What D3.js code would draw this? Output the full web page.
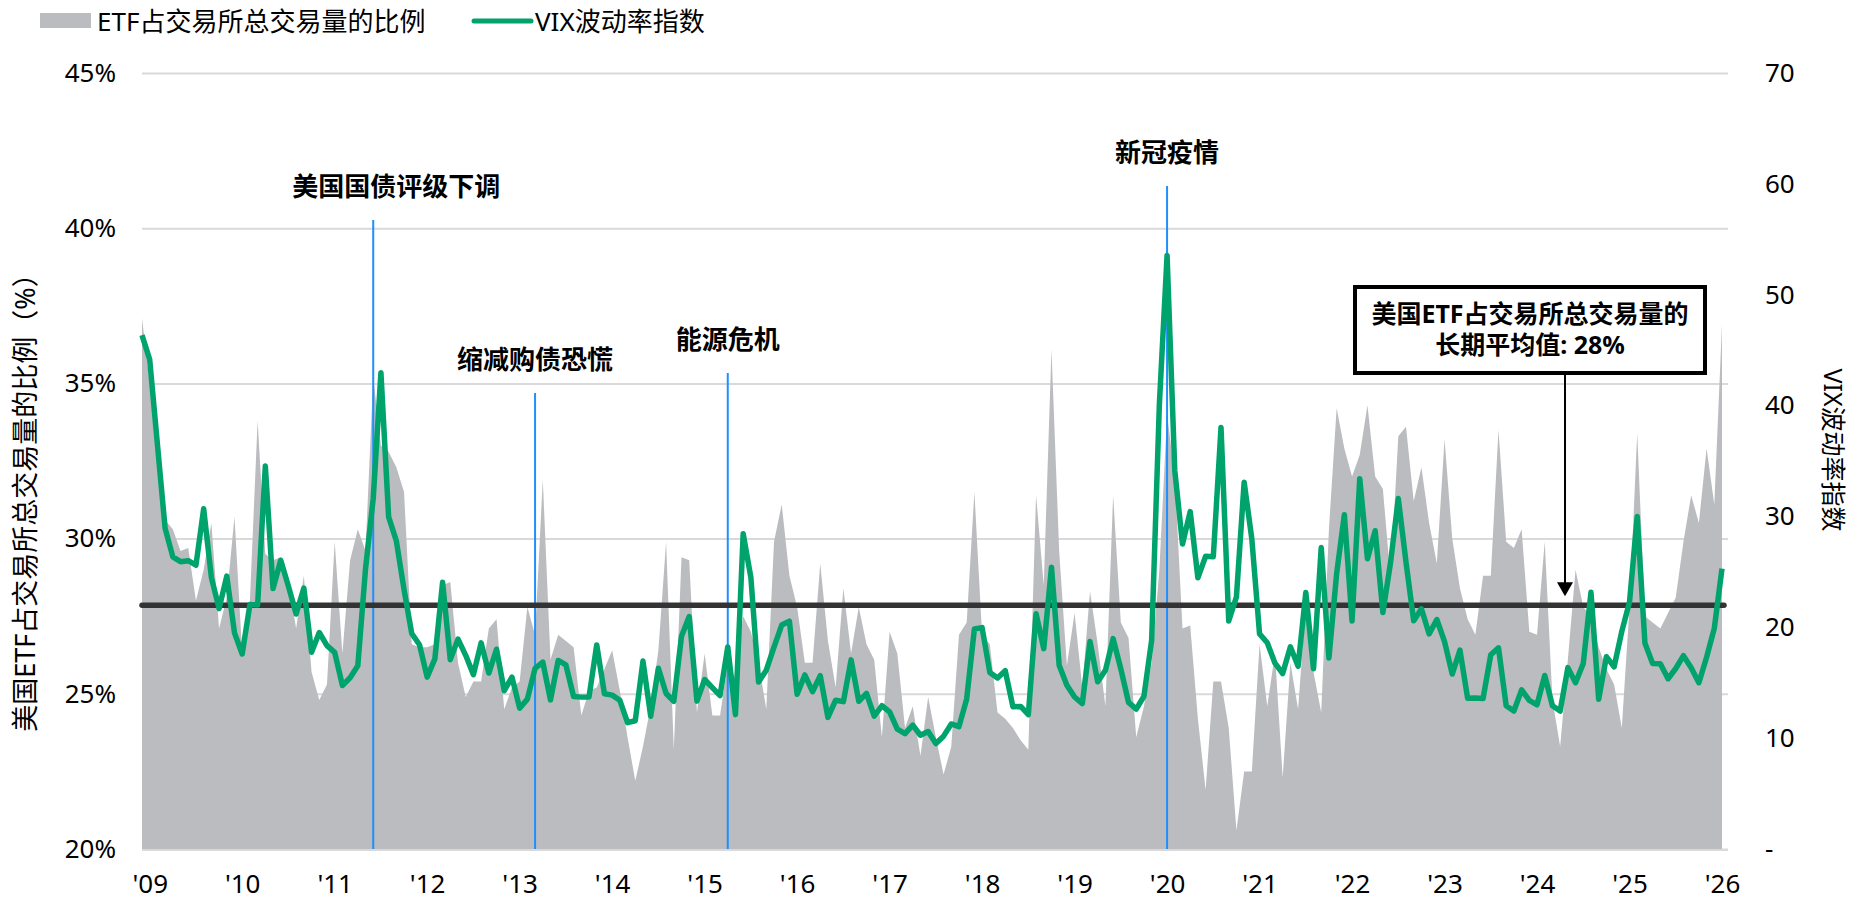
<!DOCTYPE html>
<html>
<head>
<meta charset="utf-8">
<script src="https://cdn.jsdelivr.net/npm/d3@7"></script>
<style>
	body { margin:0; background:#ffffff; }
	svg text { font-family:"Noto Sans","Noto Sans CJK SC",sans-serif; fill:#000; }
</style>
</head>
<body>
<script>

// chart data (monthly, Feb 2009 .. Mar 2026)
// -----------------------------------------
var yearLabels = ["'09","'10","'11","'12","'13","'14","'15","'16","'17","'18","'19","'20","'21","'22","'23","'24","'25","'26"];

// ETF share of total exchange volume (%)
var etfShare = [
	37.1,35.0,32.5,30.6,30.3,29.6,29.7,28.0,29.0,30.5,27.1,
	28.1,30.7,26.3,28.0,33.8,29.5,29.3,29.4,28.6,27.1,28.8,25.7,
	24.8,25.3,29.9,26.3,29.3,30.3,29.6,35.2,33.0,32.8,32.3,31.5,
	26.6,26.5,26.5,26.6,28.5,28.6,26.0,24.9,25.4,25.4,27.1,27.4,
	24.5,25.2,25.4,27.8,26.9,31.9,26.1,26.9,26.7,26.5,24.3,25.1,
	25.2,25.8,26.4,25.1,23.6,22.2,23.3,24.6,26.4,29.9,23.2,29.4,
	29.3,24.4,26.3,24.3,24.3,26.0,25.5,27.5,27.0,26.0,24.5,29.9,
	31.1,28.8,27.8,26.0,26.0,29.2,26.7,25.2,28.4,26.3,27.8,26.6,
	26.1,23.6,27.0,26.3,23.9,24.6,23.0,24.9,23.6,22.4,23.3,26.9,
	27.3,31.5,26.9,26.6,24.4,24.2,23.9,23.5,23.2,31.4,28.5,36.1,
	29.6,25.9,27.6,25.2,28.3,26.6,24.6,31.4,27.3,26.8,23.6,24.6,
	26.0,29.0,34.0,32.0,27.1,27.2,24.2,21.9,25.4,25.4,23.9,20.6,
	22.5,22.5,26.6,24.6,26.3,22.3,26.0,24.5,27.9,25.7,24.4,30.3,
	34.2,32.9,32.0,32.7,34.3,32.0,31.6,28.7,33.3,33.6,31.2,32.3,
	30.5,29.2,33.2,30.0,28.4,27.4,26.9,28.8,28.8,33.5,29.9,29.7,
	30.3,27.0,26.9,29.9,24.8,23.3,26.1,29.0,27.8,27.5,26.5,25.8,
	25.3,23.9,27.8,33.4,27.5,27.3,27.1,27.6,28.1,29.9,31.4,30.5,
	32.9,31.1,36.9
];

// VIX index, month end
var vixIndex = [
	46.35,44.14,36.50,28.92,26.35,25.92,26.01,25.61,30.69,24.51,21.68,
	24.62,19.50,17.59,22.05,22.00,34.54,23.50,26.05,23.70,21.20,23.54,17.75,
	19.53,18.35,17.74,14.75,15.45,16.52,25.25,31.62,42.96,29.96,27.80,23.40,
	19.44,18.43,15.50,17.15,24.06,17.08,18.93,17.47,15.73,18.60,15.87,18.02,
	14.28,15.51,12.70,13.52,16.30,16.86,13.45,17.01,16.60,13.75,13.70,13.72,
	18.41,14.00,13.88,13.41,11.40,11.57,16.95,11.98,16.31,14.03,13.33,19.20,
	20.97,13.34,15.29,14.55,13.84,18.23,12.12,28.43,24.50,15.07,16.13,18.21,
	20.20,20.55,13.95,15.70,14.19,15.63,11.87,13.42,13.29,17.06,13.33,14.04,
	11.99,12.92,12.37,10.82,10.41,11.18,10.26,10.59,9.51,10.18,11.28,11.04,
	13.54,19.85,19.97,15.93,15.43,16.09,12.83,12.86,12.12,21.23,18.07,25.42,
	16.57,14.78,13.71,13.12,18.71,15.08,16.12,18.98,16.24,13.22,12.62,13.78,
	18.84,40.11,53.54,34.15,27.51,30.43,24.46,26.41,26.37,38.02,20.57,22.75,
	33.09,27.95,19.40,18.61,16.76,15.83,18.24,16.48,23.14,16.26,27.19,17.22,
	24.83,30.15,20.56,33.40,26.19,28.71,21.33,25.87,31.62,25.88,20.58,21.67,
	19.40,20.70,18.70,15.78,17.94,13.59,13.63,13.57,17.52,18.14,12.92,12.45,
	14.35,13.40,13.01,15.65,12.92,12.44,16.36,15.00,16.73,23.16,13.51,17.35,
	16.43,19.63,22.28,30.00,18.57,16.73,16.72,15.36,16.28,17.44,16.35,15.00,
	17.30,19.90,25.30
];

var leftTicks  = [20,25,30,35,40,45];
var rightTicks = [0,10,20,30,40,50,60,70];

var eventNames  = ["美国国债评级下调","缩减购债恐慌","能源危机","新冠疫情"];
var eventMonths = [30,51,76,133];

var avgShare = 27.85;

// layout
// ------
var W = 1850, H = 903;
var plotLeft = 142, plotRight = 1728, plotTop = 73, plotBottom = 849;
var FONT = "'Noto Sans','Noto Sans CJK SC',sans-serif";
var GREEN = "#00a36c";
var BLUE  = "#1e8fff";
var GRAY  = "#babcbf";

var svg = d3.select("body").append("svg")
	.attr("width", W)
	.attr("height", H);

var x = d3.scaleLinear().domain([0, etfShare.length-1]).range([plotLeft, 1722]);
var yL = d3.scaleLinear().domain([20,45]).range([plotBottom, plotTop]);
var yR = d3.scaleLinear().domain([0,70]).range([plotBottom, plotTop]);

// left axis with gridlines
// ------------------------
var gL = svg.append("g")
	.attr("transform","translate("+plotLeft+",0)")
	.call(d3.axisLeft(yL).tickValues(leftTicks).tickSize(-(plotRight-plotLeft)).tickPadding(26).tickFormat(function(d){ return d+"%"; }));
gL.select(".domain").remove();
gL.selectAll(".tick line").attr("stroke","#d9d9d9").attr("stroke-width",2);
gL.selectAll(".tick text").attr("style","font-size:26px;font-family:"+FONT+";fill:#000");

// right axis
// ----------
var gR = svg.append("g")
	.attr("transform","translate("+plotRight+",0)")
	.call(d3.axisRight(yR).tickValues(rightTicks).tickSize(0).tickPadding(37).tickFormat(function(d){ return d===0 ? "-" : d; }));
gR.select(".domain").remove();
gR.selectAll(".tick text").attr("style","font-size:26px;font-family:"+FONT+";fill:#000");

// bottom axis
// -----------
var gB = svg.append("g")
	.attr("transform","translate(0,"+plotBottom+")")
	.call(d3.axisBottom(x).tickValues(d3.range(1, etfShare.length, 12)).tickSize(0).tickFormat(function(d,i){ return yearLabels[i]; }));
gB.select(".domain").remove();
gB.selectAll(".tick text")
	.attr("y",35).attr("dy","0.35em")
	.attr("style","font-size:26px;font-family:"+FONT+";fill:#000");

// ETF share area
// --------------
var area = d3.area()
	.x(function(d,i){ return x(i); })
	.y0(yL(20))
	.y1(function(d){ return yL(d); });

svg.append("path")
	.datum(etfShare)
	.attr("d", area)
	.attr("fill", GRAY);

// baseline
svg.append("line")
	.attr("x1",plotLeft).attr("x2",plotRight)
	.attr("y1",yL(20)+1).attr("y2",yL(20)+1)
	.attr("stroke","#d9d9d9").attr("stroke-width",2);

// event markers
// -------------
var eventLabelY = [187,360,340,153];
var eventLabelDx = [23,0,0,0];

eventMonths.forEach(function(m,k){
	svg.append("line")
		.attr("x1",x(m)).attr("x2",x(m))
		.attr("y1",eventLabelY[k]+33).attr("y2",plotBottom)
		.attr("stroke",BLUE).attr("stroke-width",2);
	svg.append("text")
		.attr("x",x(m)+eventLabelDx[k])
		.attr("y",eventLabelY[k])
		.attr("dy","0.35em")
		.attr("text-anchor","middle")
		.attr("style","font-size:26px;font-weight:700;font-family:"+FONT+";fill:#000")
		.text(eventNames[k]);
});

// long term average
// -----------------
svg.append("line")
	.attr("x1",x(0)).attr("x2",x(etfShare.length-1)+2)
	.attr("y1",yL(avgShare)).attr("y2",yL(avgShare))
	.attr("stroke","#333333").attr("stroke-width",5.5).attr("stroke-linecap","round");

// VIX line
// --------
var line = d3.line()
	.x(function(d,i){ return x(i); })
	.y(function(d){ return yR(d); });

svg.append("path")
	.datum(vixIndex)
	.attr("d", line)
	.attr("fill","none")
	.attr("stroke",GREEN)
	.attr("stroke-width",5.5)
	.attr("stroke-linejoin","round");

// annotation box + arrow
// ----------------------
var bx = 1355, by = 287, bw = 350, bh = 86;
svg.append("rect")
	.attr("x",bx).attr("y",by).attr("width",bw).attr("height",bh)
	.attr("fill","#fff").attr("stroke","#000").attr("stroke-width",4);
svg.append("text")
	.attr("x",bx+bw/2).attr("y",by+27).attr("dy","0.35em").attr("text-anchor","middle")
	.attr("style","font-size:25px;font-weight:700;font-family:"+FONT+";fill:#000")
	.text("美国ETF占交易所总交易量的");
svg.append("text")
	.attr("x",bx+bw/2).attr("y",by+58).attr("dy","0.35em").attr("text-anchor","middle")
	.attr("style","font-size:25px;font-weight:700;font-family:"+FONT+";fill:#000")
	.text("长期平均值: 28%");

var ax = 1565, tipY = yL(avgShare)-9;
svg.append("line")
	.attr("x1",ax).attr("x2",ax).attr("y1",by+bh+2).attr("y2",tipY-12)
	.attr("stroke","#000").attr("stroke-width",2);
svg.append("path")
	.attr("d","M"+(ax-8)+","+(tipY-14)+"L"+(ax+8)+","+(tipY-14)+"L"+ax+","+tipY+"Z")
	.attr("fill","#000");

// axis titles
// -----------
svg.append("text")
	.attr("transform","translate(26,496) rotate(-90)")
	.attr("dy","0.35em")
	.attr("text-anchor","middle")
	.attr("style","font-size:27px;font-family:"+FONT+";fill:#000")
	.text("美国ETF占交易所总交易量的比例（%）");

svg.append("text")
	.attr("transform","translate(1833,450) rotate(90)")
	.attr("dy","0.35em")
	.attr("text-anchor","middle")
	.attr("style","font-size:25px;font-family:"+FONT+";fill:#000")
	.text("VIX波动率指数");

// legend
// ------
svg.append("rect")
	.attr("x",40).attr("y",13).attr("width",51).attr("height",15)
	.attr("fill",GRAY);
svg.append("text")
	.attr("x",97).attr("y",22).attr("dy","0.35em")
	.attr("style","font-size:26px;font-family:"+FONT+";fill:#000")
	.text("ETF占交易所总交易量的比例");
svg.append("line")
	.attr("x1",474).attr("x2",531).attr("y1",21).attr("y2",21)
	.attr("stroke",GREEN).attr("stroke-width",5).attr("stroke-linecap","round");
svg.append("text")
	.attr("x",535).attr("y",22).attr("dy","0.35em")
	.attr("style","font-size:26px;font-family:"+FONT+";fill:#000")
	.text("VIX波动率指数");

</script>
</body>
</html>
